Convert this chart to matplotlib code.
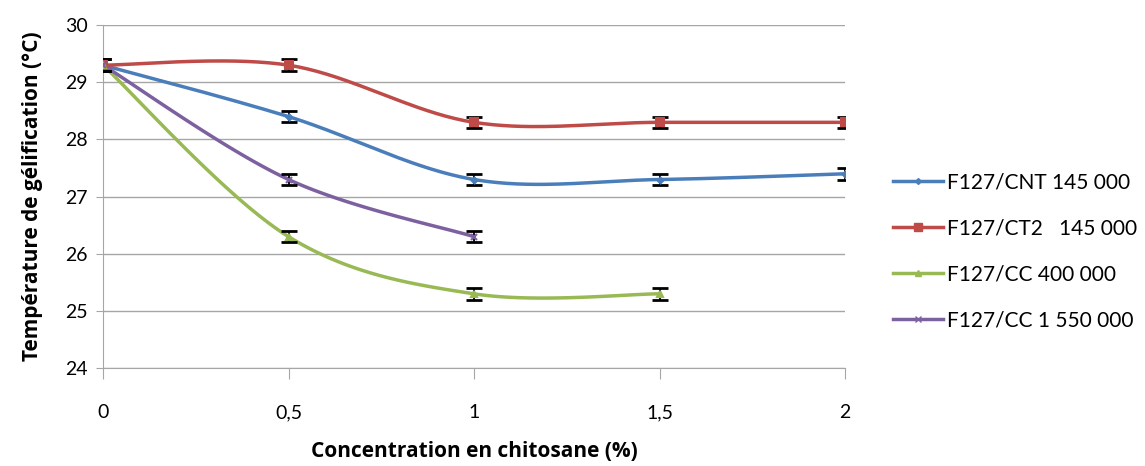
import numpy as np
import matplotlib
import matplotlib.pyplot as plt

matplotlib.use('Agg')

conc = [0, 0.5, 1, 1.5, 2]
cnt_145 = [29.3, 28.4, 27.3, 27.3, 27.4]
ct2_145 = [29.3, 29.3, 28.3, 28.3, 28.3]
cc_400 = [29.3, 26.3, 25.3, 25.3]
cc_1550 = [29.3, 27.3, 26.3]
err = 0.1

series = [
    ("F127/CNT 145 000", cnt_145, '#4A7EBB', 'D', 3),
    ("F127/CT2   145 000", ct2_145, '#BE4B48', 's', 6),
    ("F127/CC 400 000", cc_400, '#98B954', '^', 5),
    ("F127/CC 1 550 000", cc_1550, '#7D60A0', 'x', 5),
]


def smooth(x, y, n=40):
    # excel-like smoothed line (bezier with catmull-rom control points)
    x = np.asarray(x, float)
    y = np.asarray(y, float)
    px = np.concatenate([[x[0]], x, [x[-1]]])
    py = np.concatenate([[y[0]], y, [y[-1]]])
    t = np.linspace(0, 1, n)[:, None]
    xs, ys = [], []
    for i in range(1, len(px) - 2):
        p0 = np.array([px[i], py[i]])
        p3 = np.array([px[i + 1], py[i + 1]])
        p1 = p0 + (np.array([px[i + 1], py[i + 1]]) - np.array([px[i - 1], py[i - 1]])) / 6
        p2 = p3 - (np.array([px[i + 2], py[i + 2]]) - np.array([px[i], py[i]])) / 6
        pts = ((1 - t) ** 3) * p0 + 3 * ((1 - t) ** 2) * t * p1 + 3 * (1 - t) * t ** 2 * p2 + t ** 3 * p3
        xs.append(pts[:, 0])
        ys.append(pts[:, 1])
    return np.concatenate(xs), np.concatenate(ys)


fig = plt.figure(figsize=(11.45, 4.66), dpi=100)
ax = fig.add_axes([0.090, 0.210, 0.648, 0.736])

for label, vals, color, marker, ms in series:
    xv = conc[:len(vals)]
    sx, sy = smooth(xv, vals)
    ax.plot(sx, sy, color=color, lw=2.5, zorder=3)
    ax.errorbar(xv, vals, yerr=err, fmt='none', ecolor='black', elinewidth=1.3,
                capsize=6, capthick=2, zorder=4)
    ax.plot(xv, vals, ls='none', marker=marker, color=color, ms=ms, mew=1.5, zorder=5)
    ax.plot([], [], color=color, lw=2.5, marker=marker, ms=ms, label=label)

ax.set_xlim(0, 2)
ax.set_ylim(24, 30)
ax.set_xticks(conc)
ax.set_xticklabels(['0', '0,5', '1', '1,5', '2'])
ax.set_yticks(range(24, 31))
ax.grid(axis='y', color='#a6a6a6', lw=1)
ax.set_axisbelow(True)
for s in ['top', 'right']:
    ax.spines[s].set_visible(False)
for s in ['left', 'bottom']:
    ax.spines[s].set_color('#a6a6a6')
ax.tick_params(axis='x', length=8, color='#a6a6a6', pad=18, labelsize=14)
ax.tick_params(axis='y', length=5, color='#a6a6a6', pad=6, labelsize=14)
for lab in ax.get_xticklabels() + ax.get_yticklabels():
    lab.set_family(['Lato', 'DejaVu Sans'])

ax.set_xlabel("Concentration en chitosane (%)", fontsize=15, fontweight='bold', labelpad=14,
              family=['Open Sans', 'DejaVu Sans'])
ax.set_ylabel("Température de gélification (°C)", fontsize=15, fontweight='bold', labelpad=16,
              family=['Open Sans', 'DejaVu Sans'])

ax.legend(loc='center left', bbox_to_anchor=(1.04, 0.34), frameon=False,
          labelspacing=1.25, handlelength=2.4, handletextpad=0.15,
          prop={'family': ['Lato', 'DejaVu Sans'], 'size': 15})

fig.savefig('out.png', dpi=100)
